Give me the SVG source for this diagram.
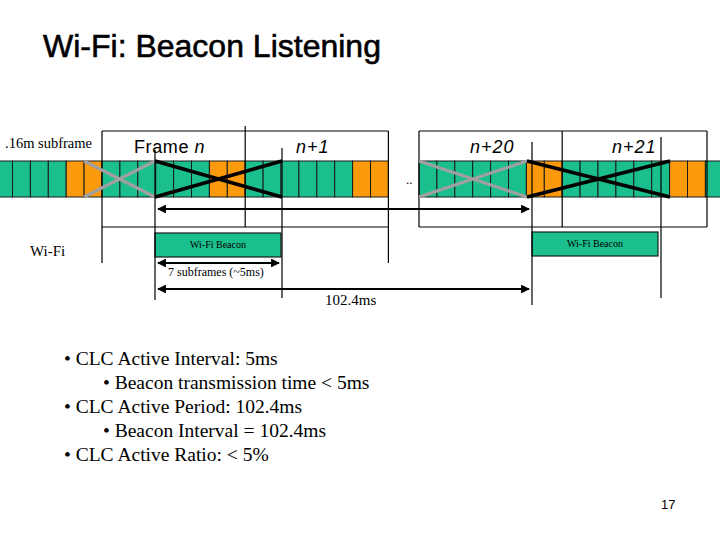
<svg xmlns="http://www.w3.org/2000/svg" width="720" height="540" viewBox="0 0 720 540">
<style>
.g{fill:#1abf8d;stroke:#1a1a1a;stroke-width:1}
.o{fill:#fb9a0c;stroke:#1a1a1a;stroke-width:1}
.ln{stroke:#000;stroke-width:1.2;fill:none}
.xb{stroke:#000;stroke-width:3.5;fill:none}
.xg{stroke:#a0a0a0;stroke-width:3.2;fill:none}
.arr{stroke:#000;stroke-width:2.2;fill:none;marker-start:url(#ah);marker-end:url(#ah)}
.sans{font-family:"Liberation Sans",Arial,sans-serif}
.serif{font-family:"Liberation Serif","Times New Roman",serif}
.bx{fill:#1abf8d;stroke:#1a1a1a;stroke-width:1.2}
.fl{font-size:18px;font-style:italic;letter-spacing:1px}
</style>
<defs>
<marker id="ah" viewBox="0 0 10 10" refX="9" refY="5" markerWidth="4" markerHeight="4" orient="auto-start-reverse" markerUnits="strokeWidth">
<path d="M0,0 L10,5 L0,10 z" fill="#000"/>
</marker>
</defs>
<rect width="720" height="540" fill="#fff"/>
<text x="43" y="57" class="sans" font-size="32" fill="#000" stroke="#000" stroke-width="0.6">Wi-Fi: Beacon Listening</text>

<g id="subframe-strip">
<rect class="g" x="-5.4" y="161" width="17.9" height="36"/>
<rect class="g" x="12.5" y="161" width="17.9" height="36"/>
<rect class="g" x="30.4" y="161" width="17.9" height="36"/>
<rect class="g" x="48.3" y="161" width="17.9" height="36"/>
<rect class="o" x="66.2" y="161" width="17.9" height="36"/>
<rect class="o" x="84.1" y="161" width="17.9" height="36"/>
<rect class="g" x="102" y="161" width="17.9" height="36"/>
<rect class="g" x="119.9" y="161" width="17.9" height="36"/>
<rect class="g" x="137.8" y="161" width="17.9" height="36"/>
<rect class="g" x="155.7" y="161" width="17.9" height="36"/>
<rect class="g" x="173.6" y="161" width="17.9" height="36"/>
<rect class="g" x="191.5" y="161" width="17.9" height="36"/>
<rect class="o" x="209.4" y="161" width="17.9" height="36"/>
<rect class="o" x="227.3" y="161" width="17.9" height="36"/>
<rect class="g" x="245.2" y="161" width="17.9" height="36"/>
<rect class="g" x="263.1" y="161" width="17.9" height="36"/>
<rect class="g" x="281" y="161" width="17.9" height="36"/>
<rect class="g" x="298.9" y="161" width="17.9" height="36"/>
<rect class="g" x="316.8" y="161" width="17.9" height="36"/>
<rect class="g" x="334.7" y="161" width="17.9" height="36"/>
<rect class="o" x="352.6" y="161" width="17.9" height="36"/>
<rect class="o" x="370.5" y="161" width="17.9" height="36"/>
<rect class="g" x="419" y="161" width="17.9" height="36"/>
<rect class="g" x="436.9" y="161" width="17.9" height="36"/>
<rect class="g" x="454.8" y="161" width="17.9" height="36"/>
<rect class="g" x="472.7" y="161" width="17.9" height="36"/>
<rect class="g" x="490.6" y="161" width="17.9" height="36"/>
<rect class="g" x="508.5" y="161" width="17.9" height="36"/>
<rect class="o" x="526.4" y="161" width="17.9" height="36"/>
<rect class="o" x="544.3" y="161" width="17.9" height="36"/>
<rect class="g" x="562.2" y="161" width="17.9" height="36"/>
<rect class="g" x="580.1" y="161" width="17.9" height="36"/>
<rect class="g" x="598" y="161" width="17.9" height="36"/>
<rect class="g" x="615.9" y="161" width="17.9" height="36"/>
<rect class="g" x="633.8" y="161" width="17.9" height="36"/>
<rect class="g" x="651.7" y="161" width="17.9" height="36"/>
<rect class="o" x="669.6" y="161" width="17.9" height="36"/>
<rect class="o" x="687.5" y="161" width="17.9" height="36"/>
<rect class="g" x="705.4" y="161" width="17.9" height="36"/>
</g>

<g id="frame-table">
<path class="ln" d="M102,131 H388.4 M102,131 V263 M245.2,126 V227 M388.4,131 V263 M102,227 H388.4"/>
<path class="ln" d="M419,131 H707 M419,131 V227 M562.2,131 V227 M707,131 V227 M419,227 H707"/>
</g>

<g id="labels">
<text x="5" y="148" class="serif" font-size="14.5">.16m subframe</text>
<text x="134" y="153" class="sans" font-size="18" letter-spacing="0.6">Frame <tspan font-style="italic">n</tspan></text>
<text x="296" y="153" class="sans fl">n+1</text>
<text x="470" y="153" class="sans fl">n+20</text>
<text x="612" y="153" class="sans fl">n+21</text>
<text x="406" y="184" class="serif" font-size="13">..</text>
<text x="30" y="256" class="serif" font-size="15">Wi-Fi</text>
</g>

<g id="crosses">
<path class="xg" d="M84,161 L155,197 M84,197 L155,161"/>
<path class="xb" d="M155,161 L282,197 M155,197 L282,161"/>
<path class="xg" d="M419,161 L527,197 M419,197 L527,161"/>
<path class="xb" d="M527,161 L670,197 M527,197 L670,161"/>
</g>

<g id="beacon-1">
<rect class="bx" x="155" y="233" width="126" height="24"/>
<text x="218" y="248" class="serif" font-size="10" text-anchor="middle">Wi-Fi Beacon</text>
</g>
<g id="beacon-2">
<rect class="bx" x="532" y="232" width="126" height="24"/>
<text x="595" y="247" class="serif" font-size="10" text-anchor="middle">Wi-Fi Beacon</text>
</g>

<g id="connectors">
<path class="ln" d="M155,150 V300 M282,148 V298 M532,142 V305 M661,137 V298"/>
<line class="arr" x1="158" y1="209" x2="529" y2="209"/>
<line class="arr" x1="158" y1="263" x2="279" y2="263"/>
<line class="arr" x1="158" y1="289" x2="529" y2="289"/>
</g>

<g id="measure-labels">
<text x="168" y="276" class="serif" font-size="12">7 subframes (~5ms)</text>
<text x="325" y="305" class="serif" font-size="15">102.4ms</text>
</g>

<g id="bullets" class="serif" font-size="19.5">
<text x="64" y="365">• CLC Active Interval: 5ms</text>
<text x="103" y="389">• Beacon transmission time &lt; 5ms</text>
<text x="64" y="413">• CLC Active Period: 102.4ms</text>
<text x="103" y="437">• Beacon Interval = 102.4ms</text>
<text x="64" y="461">• CLC Active Ratio: &lt; 5%</text>
</g>
<text x="661" y="509" class="sans" font-size="13">17</text>
</svg>
